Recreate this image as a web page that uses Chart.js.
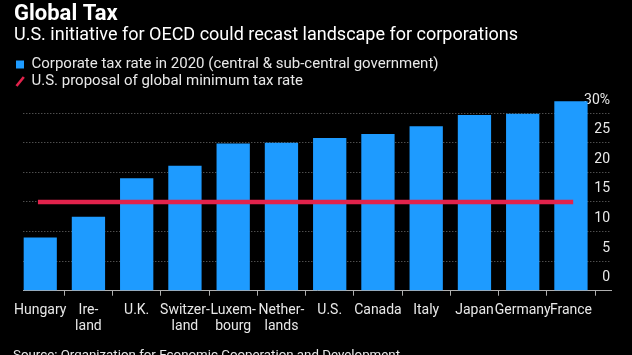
<!DOCTYPE html>
<html><head><meta charset="utf-8">
<script src="https://cdn.jsdelivr.net/npm/chart.js@4"></script>
<style>html,body{margin:0;padding:0;background:#000;}#wrap{position:relative;width:632px;height:355px;}</style>
</head><body><div id="wrap"><canvas id="c" width="632" height="355"></canvas></div>
<script>
const categories = [['Hungary'], ['Ire-', 'land'], ['U.K.'], ['Switzer-', 'land'], ['Luxem-', 'bourg'], ['Nether-', 'lands'], ['U.S.'], ['Canada'], ['Italy'], ['Japan'], ['Germany'], ['France']];
const taxRates = [9.0, 12.5, 19.0, 21.1, 24.9, 25.0, 25.8, 26.5, 27.8, 29.7, 29.9, 32.0];
const minimumRate = [15, 15, 15, 15, 15, 15, 15, 15, 15, 15, 15, 15];
const yTickValues = [0, 5, 10, 15, 20, 25, 30];
const titleText = 'Global Tax';
const subtitleText = 'U.S. initiative for OECD could recast landscape for corporations';
const barLabel = 'Corporate tax rate in 2020 (central & sub-central government)';
const lineLabel = 'U.S. proposal of global minimum tax rate';
const sourceText = 'Source: Organization for Economic Cooperation and Development';

const BLUE = '#1e9bff';
const RED = '#e2234c';
const TEXT = '#e8e8e8';
const FONT = "Roboto, 'Liberation Sans', sans-serif";

Chart.defaults.font.family = FONT;
Chart.defaults.color = TEXT;

// legend icon: red slash
const slash = document.createElement('canvas');
slash.width = 10; slash.height = 11;
(function(){ const g = slash.getContext('2d'); g.strokeStyle = RED; g.lineWidth = 2.6; g.lineCap = 'butt';
  g.beginPath(); g.moveTo(1.5, 10); g.lineTo(8.8, 1); g.stroke(); })();

const sourcePlugin = {
  id: 'sourceText',
  afterDraw(chart) {
    const c = chart.ctx;
    c.save();
    c.font = "13.3px " + FONT;
    c.fillStyle = TEXT;
    c.textBaseline = 'alphabetic';
    c.textAlign = 'left';
    c.fillText(sourceText, 13, 359);
    c.restore();
  }
};

const bgPlugin = {
  id: 'bg',
  beforeDraw(chart) { const c = chart.ctx; c.save(); c.fillStyle = '#000'; c.fillRect(0, 0, chart.width, chart.height); c.restore(); }
};

new Chart(document.getElementById('c'), {
  type: 'bar',
  data: {
    datasets: [
      {
        type: 'bar', label: barLabel,
        data: taxRates.map((v, i) => ({x: i, y: v})),
        backgroundColor: BLUE, borderWidth: 0,
        barPercentage: 0.69, categoryPercentage: 1, order: 1
      },
      {
        type: 'line', label: lineLabel,
        data: minimumRate.map((v, i) => ({x: i, y: v})),
        borderColor: RED, backgroundColor: RED, borderWidth: 4.5,
        borderCapStyle: 'square', pointRadius: 0, pointHoverRadius: 0,
        pointStyle: slash, order: 0
      }
    ]
  },
  options: {
    responsive: false, animation: false, devicePixelRatio: 1,
    layout: { padding: { left: 14, right: 21, top: 0, bottom: 13.7 } },
    plugins: {
      tooltip: { enabled: false },
      title: { display: true, text: titleText, align: 'start', color: '#ffffff',
        font: { size: 22, weight: 'bold', lineHeight: 1.0 }, padding: { top: 3, bottom: 0 } },
      subtitle: { display: true, text: subtitleText, align: 'start', color: '#ffffff',
        font: { size: 18, lineHeight: 1.0 }, padding: { top: 1.5, bottom: 10.5 } },
      legend: {
        display: true, position: 'top', align: 'start',
        labels: {
          usePointStyle: true, boxWidth: 8, boxHeight: 8, padding: 2,
          color: TEXT, font: { size: 15 },
          generateLabels(chart) {
            const items = Chart.defaults.plugins.legend.labels.generateLabels(chart);
            items.forEach(it => {
              const ds = chart.data.datasets[it.datasetIndex];
              if (ds.type === 'line') { it.pointStyle = slash; }
              else { it.pointStyle = 'rect'; it.fillStyle = BLUE; it.strokeStyle = BLUE; it.lineWidth = 0; }
            });
            return items.sort((a, b) => a.datasetIndex - b.datasetIndex);
          }
        }
      }
    },
    scales: {
      x: {
        type: 'linear', min: -0.35, max: 11.83, offset: false,
        afterBuildTicks(s) { s.ticks = categories.map((c, i) => ({value: i})); },
        afterFit(s) { s.paddingLeft = 23.3; s.paddingRight = 0; },
        ticks: { autoSkip: false, maxRotation: 0, minRotation: 0, padding: 6, color: TEXT,
          font: { size: 14, lineHeight: 1.2 },
          callback: (v) => categories[v] },
        grid: { drawOnChartArea: false, drawTicks: true, tickLength: 5, tickColor: '#b0b0b0', color: '#b0b0b0' },
        border: { display: true, color: '#b0b0b0', width: 1 }
      },
      y: {
        position: 'right', min: 0, max: 32.4,
        afterBuildTicks(s) { s.ticks = yTickValues.map(v => ({value: v})); },
        ticks: { mirror: true, padding: -1, labelOffset: -13, color: TEXT, font: { size: 14 },
          callback: (v) => v === 30 ? '30%' : String(v) },
        grid: { color: '#707070', lineWidth: 1, drawTicks: false },
        border: { display: false, dash: [1, 2] }
      }
    }
  },
  plugins: [bgPlugin, sourcePlugin]
});
</script>
</body></html>
